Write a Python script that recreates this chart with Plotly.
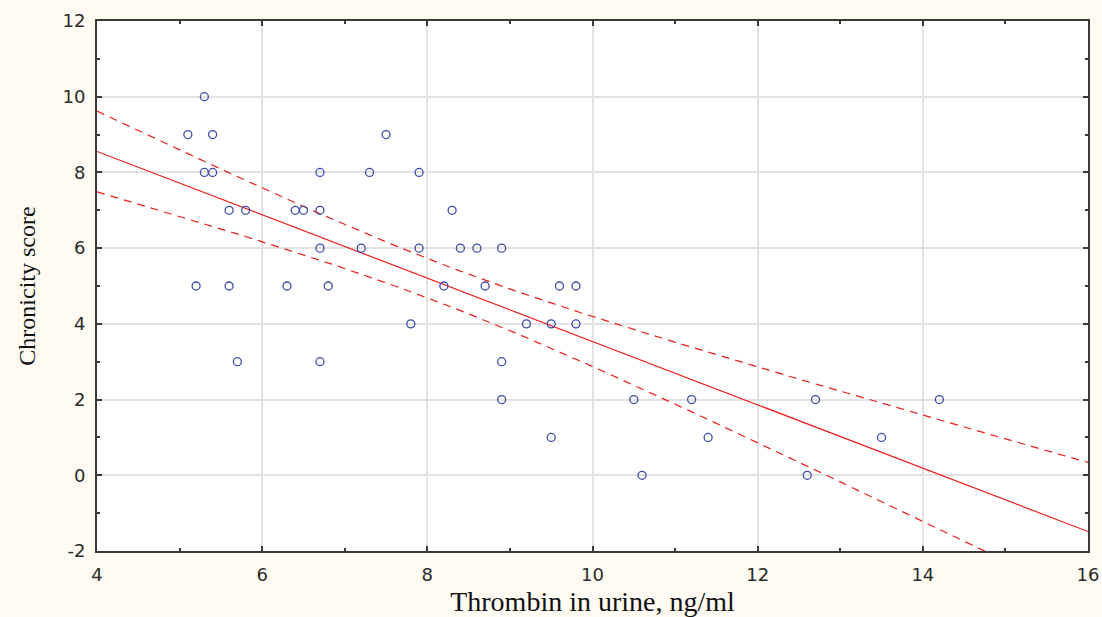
import numpy as np
import plotly.graph_objects as go

# Data
thrombin = [5.1, 5.3, 5.4, 5.3, 5.4, 5.2, 5.6, 5.8, 5.6, 5.7,
            6.3, 6.4, 6.5, 6.7, 6.7, 6.7, 6.8, 6.7, 7.2, 7.3,
            7.5, 7.8, 7.9, 7.9, 8.2, 8.3, 8.4, 8.6, 8.7, 8.9,
            8.9, 8.9, 9.2, 9.5, 9.5, 9.6, 9.8, 9.8, 10.5, 10.6,
            11.2, 11.4, 12.6, 12.7, 13.5, 14.2]
chronicity = [9, 10, 9, 8, 8, 5, 7, 7, 5, 3,
              5, 7, 7, 8, 7, 6, 5, 3, 6, 8,
              9, 4, 8, 6, 5, 7, 6, 6, 5, 6,
              3, 2, 4, 4, 1, 5, 5, 4, 2, 0,
              2, 1, 0, 2, 1, 2]

x_ticks = [4, 6, 8, 10, 12, 14, 16]
x_tick_labels = ["4", "6", "8", "10", "12", "14", "16"]
y_ticks = [-2, 0, 2, 4, 6, 8, 10, 12]
y_tick_labels = ["-2", "0", "2", "4", "6", "8", "10", "12"]

# Linear regression with 95% confidence band
x = np.array(thrombin, dtype=float)
y = np.array(chronicity, dtype=float)
n = len(x)
b, a = np.polyfit(x, y, 1)
resid = y - (a + b * x)
s = np.sqrt(np.sum(resid ** 2) / (n - 2))
sxx = np.sum((x - x.mean()) ** 2)
t = 2.015
xf = np.linspace(4, 16, 200)
yf = a + b * xf
hw = t * s * np.sqrt(1.0 / n + (xf - x.mean()) ** 2 / sxx)

red = "#ee1c1c"
fig = go.Figure()
fig.add_trace(go.Scatter(x=xf, y=yf + hw, mode="lines",
                         line=dict(color=red, width=1.2, dash="8px,6px"),
                         hoverinfo="skip"))
fig.add_trace(go.Scatter(x=xf, y=yf - hw, mode="lines",
                         line=dict(color=red, width=1.2, dash="8px,6px"),
                         hoverinfo="skip"))
fig.add_trace(go.Scatter(x=xf, y=yf, mode="lines",
                         line=dict(color=red, width=1.2), hoverinfo="skip"))
fig.add_trace(go.Scatter(x=thrombin, y=chronicity, mode="markers",
                         marker=dict(symbol="circle-open", size=8,
                                     color="#3c4ba8", line=dict(width=1.3))))

axis_common = dict(
    showline=True, linecolor="#3a3a3a", linewidth=2, mirror="ticks",
    ticks="inside", ticklen=5, tickcolor="#3a3a3a", tickwidth=2,
    showgrid=True, gridcolor="#e2e2e2", gridwidth=2, zeroline=False,
    automargin=False, ticklabelstandoff=6,
    tickfont=dict(family="DejaVu Sans, Arial", size=18, color="#2a2a2a"),
    minor=dict(ticks="inside", ticklen=3, tickcolor="#3a3a3a", showgrid=False),
)

fig.update_layout(
    width=1102, height=617,
    margin=dict(l=97, r=14, t=21, b=66),
    paper_bgcolor="#fffbf3", plot_bgcolor="#ffffff",
    showlegend=False,
    xaxis=dict(range=[4, 16], tickvals=x_ticks, ticktext=x_tick_labels,
               **axis_common,
               title=dict(text="Thrombin in urine, ng/ml", standoff=10,
                          font=dict(family="Liberation Serif, Times New Roman",
                                    size=28, color="#111111"))),
    yaxis=dict(range=[-2, 12], tickvals=y_ticks, ticktext=y_tick_labels,
               **axis_common,
               title=dict(text="Chronicity score", standoff=20,
                          font=dict(family="Liberation Serif, Times New Roman",
                                    size=24, color="#111111"))),
)
fig.update_xaxes(minor=dict(tickvals=[5, 7, 9, 11, 13, 15]))
fig.update_yaxes(minor=dict(tickvals=[-1, 1, 3, 5, 7, 9, 11]))

fig.write_html("out.html")
